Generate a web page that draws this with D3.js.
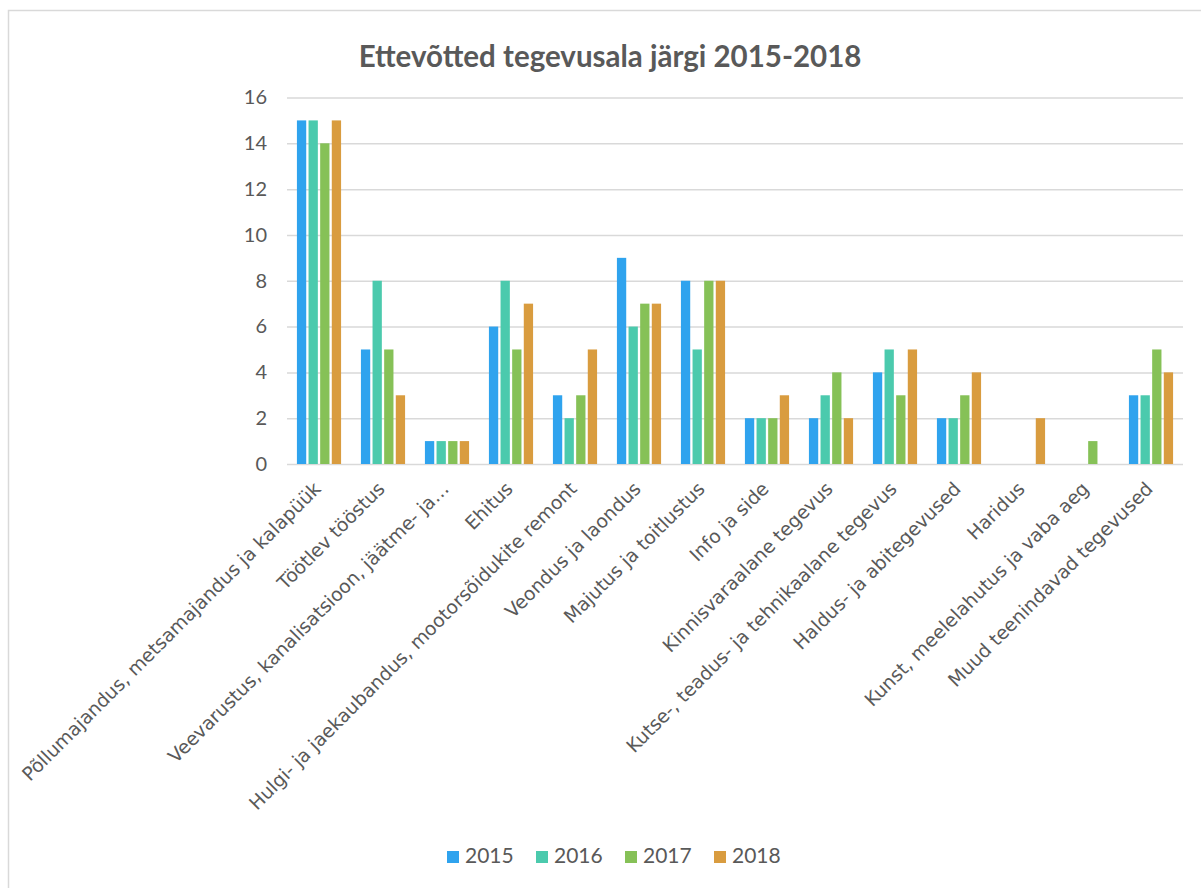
<!DOCTYPE html>
<html>
<head>
<meta charset="utf-8">
<script src="https://cdn.jsdelivr.net/npm/d3@7"></script>
<style>
  body { margin: 0; background: #fff; }
  svg text { font-family: "Lato", "Noto Sans", sans-serif; fill: #595959; }
</style>
</head>
<body>
<div id="chart"></div>
<script>
var width = 1201;
var height = 888;
var plot = { left: 287, right: 1183, top: 97.5, bottom: 464 };

/* Data */
var categories = [
  "Põllumajandus, metsamajandus ja kalapüük",
  "Töötlev tööstus",
  "Veevarustus, kanalisatsioon, jäätme- ja…",
  "Ehitus",
  "Hulgi- ja jaekaubandus, mootorsõidukite remont",
  "Veondus ja laondus",
  "Majutus ja toitlustus",
  "Info ja side",
  "Kinnisvaraalane tegevus",
  "Kutse-, teadus- ja tehnikaalane tegevus",
  "Haldus- ja abitegevused",
  "Haridus",
  "Kunst, meelelahutus ja vaba aeg",
  "Muud teenindavad tegevused"
];
var years = ["2015", "2016", "2017", "2018"];
var values2015 = [15, 5, 1, 6, 3, 9, 8, 2, 2, 4, 2, 0, 0, 3];
var values2016 = [15, 8, 1, 8, 2, 6, 5, 2, 3, 5, 2, 0, 0, 3];
var values2017 = [14, 5, 1, 5, 3, 7, 8, 2, 4, 3, 3, 0, 1, 5];
var values2018 = [15, 3, 1, 7, 5, 7, 8, 3, 2, 5, 4, 2, 0, 4];
var yTicks = [0, 2, 4, 6, 8, 10, 12, 14, 16];
var colors = ["#2fa3ee", "#4bcaad", "#86c157", "#d99c3f"];

var series = [values2015, values2016, values2017, values2018];
var rows = categories.map(function(c, i) {
  return { name: c, values: years.map(function(y, j) { return { year: y, value: series[j][i] }; }) };
});

/* Scales */
var x0 = d3.scaleBand()
  .domain(categories)
  .range([plot.left, plot.right])
  .paddingInner(0.31)
  .paddingOuter(0.155);

var x1 = d3.scaleBand()
  .domain(years)
  .range([0, x0.bandwidth()])
  .paddingInner(0.2);

var y = d3.scaleLinear()
  .domain([0, 16])
  .range([plot.bottom, plot.top]);

var color = d3.scaleOrdinal().domain(years).range(colors);

var svg = d3.select("#chart")
  .append("svg")
  .attr("width", width)
  .attr("height", height);

/* Frame */
svg.append("path")
  .attr("d", "M8.5,888 V10.5 H1201")
  .attr("fill", "none")
  .attr("stroke", "#d9d9d9")
  .attr("stroke-width", 1.5);

/* Title */
svg.append("text")
  .attr("x", 610)
  .attr("y", 67)
  .attr("text-anchor", "middle")
  .style("font-size", "29.5px")
  .style("font-weight", "bold")
  .text("Ettevõtted tegevusala järgi 2015-2018");

/* Grid + y axis */
var yAxis = d3.axisLeft(y)
  .tickValues(yTicks)
  .tickSize(-(plot.right - plot.left))
  .tickPadding(20);

var gy = svg.append("g")
  .attr("class", "y axis")
  .attr("transform", "translate(" + plot.left + ",0)")
  .call(yAxis);
gy.select(".domain").remove();
gy.selectAll(".tick line")
  .attr("stroke", "#d9d9d9")
  .attr("stroke-width", 1.5);
gy.selectAll(".tick text")
  .style("font-size", "20px")
  .attr("x", -20);

/* Bars */
var groups = svg.append("g")
  .attr("class", "bars")
  .selectAll("g")
  .data(rows)
  .enter()
  .append("g")
  .attr("transform", function(d) { return "translate(" + x0(d.name) + ",0)"; });

groups.selectAll("rect")
  .data(function(d) { return d.values.filter(function(v) { return v.value > 0; }); })
  .enter()
  .append("rect")
  .attr("x", function(d) { return x1(d.year); })
  .attr("y", function(d) { return y(d.value); })
  .attr("width", x1.bandwidth())
  .attr("height", function(d) { return y(0) - y(d.value); })
  .attr("fill", function(d) { return color(d.year); });

/* Category labels */
var xAxis = d3.axisBottom(x0).tickSize(0).tickPadding(0);
var gx = svg.append("g")
  .attr("class", "x axis")
  .attr("transform", "translate(0," + plot.bottom + ")")
  .call(xAxis);
gx.select(".domain").remove();
gx.selectAll(".tick text")
  .style("font-family", "'DejaVu Sans', sans-serif")
  .style("font-size", "18.8px")
  .attr("text-anchor", "end")
  .attr("y", 0)
  .attr("dy", 0)
  .attr("transform", "translate(3,26) rotate(-45)");

/* Legend */
var legend = svg.append("g")
  .attr("class", "legend")
  .selectAll("g")
  .data(years)
  .enter()
  .append("g")
  .attr("transform", function(d, i) { return "translate(" + (447 + i * 89) + ",851)"; });

legend.append("rect")
  .attr("width", 12)
  .attr("height", 12)
  .attr("fill", function(d) { return color(d); });

legend.append("text")
  .attr("x", 18)
  .attr("y", 12)
  .style("font-size", "21px")
  .text(function(d) { return d; });
</script>
</body>
</html>
